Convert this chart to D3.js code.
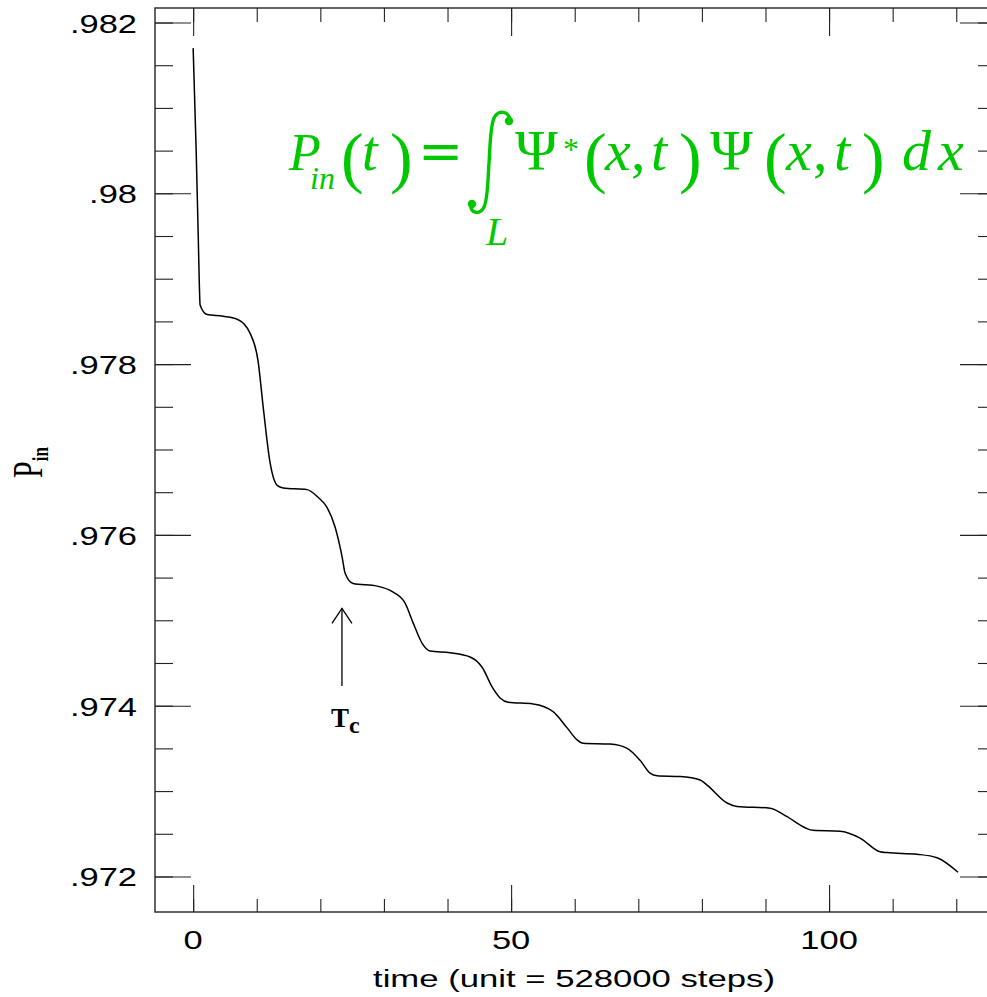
<!DOCTYPE html>
<html>
<head>
<meta charset="utf-8">
<script src="https://cdn.jsdelivr.net/npm/d3@7"></script>
<style>
  body { margin: 0; background: #fff; }
  svg { display: block; }
</style>
</head>
<body>
<svg width="987" height="997"></svg>
<script>
// time, in units of 528000 steps
var times = [0, 0.47, 0.79, 1.10, 2.20, 4.72, 7.08, 8.96, 10.22, 11.01,
    12.11, 13.21, 14.15, 17.92, 19.65, 21.07, 22.33, 23.43, 23.90, 25.16, 28.93,
    31.45, 33.33, 34.59, 36.01, 37.26, 40.41, 43.55, 45.44, 47.01, 48.27,
    49.53, 53.46, 56.60, 58.81, 60.38, 61.32, 65.57, 68.24, 70.28, 71.86,
    72.96, 76.57, 79.72, 80.82, 83.96, 85.53, 90.72, 93.40, 96.23, 97.48,
    101.73, 104.87, 108.02, 109.12, 113.84, 116.98, 120.28];
// probability inside L
var pin = [.98170, .98051, .97953, .97869, .97858, .97856, .97852, .97836, .97803, .97750,
    .97684, .97658, .97655, .97653, .97644, .97632, .97609, .97574, .97555, .97543, .97540,
    .97533, .97520, .97497, .97473, .97464, .97462, .97457, .97445, .97422, .97409,
    .97404, .97402, .97393, .97374, .97360, .97356, .97355, .97350, .97336, .97321,
    .97318, .97317, .97313, .97307, .97286, .97282, .97280, .97270, .97257, .97254,
    .97253, .97245, .97229, .97228, .97226, .97222, .97205];

var xTicks = [0, 50, 100];
var yTicks = [.972, .974, .976, .978, .98, .982];

// T_c marker
var tcTime = 23.4;
var tcTop = .97514;
var tcBottom = .97423;

var svg = d3.select("svg");
var SX = 1.38; // the original plot is stretched sideways

var x = d3.scaleLinear().domain([-6, 126.25]).range([155, 996]);
var y = d3.scaleLinear().domain([.971584, .98217]).range([912, 8]);

var fmt = function(d) { return d3.format(".3~f")(d).replace(/^0/, ""); };

// ticks on all four sides, pointing in
var drawTicks = function(axis, tr, major, minor, bigLen, smallLen) {
    var g = svg.append("g").attr("transform", tr);
    g.append("g").call(axis.tickValues(minor).tickSize(-smallLen).tickFormat(""));
    g.append("g").call(axis.tickValues(major).tickSize(-bigLen).tickFormat(""));
    g.selectAll(".domain").remove();
    g.selectAll("line").attr("stroke", "#222").attr("stroke-width", 1.1);
};

drawTicks(d3.axisBottom(x), "translate(0,912)", xTicks, x.ticks(13), 27, 13);
drawTicks(d3.axisTop(x), "translate(0,8)", xTicks, x.ticks(13), 28, 14);
drawTicks(d3.axisLeft(y), "translate(155,0)", yTicks, y.ticks(20), 36, 18);
drawTicks(d3.axisRight(y), "translate(996,0)", yTicks, y.ticks(20), 36, 18);

svg.append("rect")
    .attr("x", 155).attr("y", 8)
    .attr("width", 996 - 155).attr("height", 912 - 8)
    .attr("fill", "none")
    .attr("stroke", "#222")
    .attr("stroke-width", 1.4);

// tick labels
svg.selectAll(".ylab")
    .data(yTicks)
    .enter()
    .append("text")
    .attr("class", "ylab")
    .attr("transform", function(d) { return "translate(137," + (y(d) + 10) + ") scale(" + SX + ",1)"; })
    .attr("text-anchor", "end")
    .style("font-family", "'Liberation Sans', Arial, sans-serif")
    .style("font-size", "25px")
    .text(fmt);

svg.selectAll(".xlab")
    .data(xTicks)
    .enter()
    .append("text")
    .attr("class", "xlab")
    .attr("transform", function(d) { return "translate(" + x(d) + ",949) scale(" + SX + ",1)"; })
    .attr("text-anchor", "middle")
    .style("font-family", "'Liberation Sans', Arial, sans-serif")
    .style("font-size", "25px")
    .text(function(d) { return d; });

svg.append("text")
    .attr("x", 574).attr("y", 987)
    .attr("text-anchor", "middle")
    .attr("textLength", 402)
    .attr("lengthAdjust", "spacingAndGlyphs")
    .style("font-family", "'Liberation Sans', Arial, sans-serif")
    .style("font-size", "23px")
    .text("time (unit = 528000 steps)");

// y label P_in
var ylab = svg.append("text")
    .attr("transform", "translate(42,478) scale(" + SX + ",1) rotate(-90)")
    .style("font-family", "'Liberation Serif', 'Times New Roman', serif");
ylab.append("tspan").style("font-size", "30px").text("P");
ylab.append("tspan").attr("dy", 4).style("font-size", "17px").style("font-weight", "bold").text("in");

// data line
var line = d3.line()
    .x(function(d, i) { return x(times[i]); })
    .y(function(d) { return y(d); })
    .curve(d3.curveMonotoneX);

svg.append("path")
    .datum(pin)
    .attr("d", line)
    .attr("fill", "none")
    .attr("stroke", "#000")
    .attr("stroke-width", 1.5);

// arrow + T_c
var ax = x(tcTime);
svg.append("line")
    .attr("x1", ax).attr("x2", ax)
    .attr("y1", y(tcTop)).attr("y2", y(tcBottom))
    .attr("stroke", "#000").attr("stroke-width", 1.3);
svg.append("path")
    .attr("d", "M" + (ax - 10) + "," + (y(tcTop) + 15) + "L" + ax + "," + y(tcTop) + "L" + (ax + 10) + "," + (y(tcTop) + 15))
    .attr("fill", "none").attr("stroke", "#000").attr("stroke-width", 1.3);

var tc = svg.append("text")
    .attr("x", ax - 11).attr("y", 727)
    .style("font-family", "'Liberation Serif', 'Times New Roman', serif")
    .style("font-weight", "bold");
tc.append("tspan").style("font-size", "27px").text("T");
tc.append("tspan").attr("dy", 6).style("font-size", "24px").text("c");

// green formula, one text with placed pieces
var green = "#00c800";
var fy = 170;
var pieces = [
    ["P", 289, 52, true, 0],
    ["in", 310, 32, true, 19],
    ["(", 341, 68, false, 10],
    ["t", 362, 56, true, 0],
    [")", 390, 68, false, 10],
    ["=", 418, 54, false, 0, "'DejaVu Serif', serif"],
    ["\u03A8", 515, 58, false, 0],
    ["*", 563, 32, false, -10],
    ["(", 584, 68, false, 10],
    ["x", 605, 58, true, 0],
    [",", 631, 58, false, 0],
    ["t", 651, 58, true, 0],
    [")", 679, 68, false, 10],
    ["\u03A8", 710, 58, false, 0],
    ["(", 764, 68, false, 10],
    ["x", 786, 58, true, 0],
    [",", 813, 58, false, 0],
    ["t", 834, 58, true, 0],
    [")", 862, 68, false, 10],
    ["d", 902, 58, true, 0],
    ["x", 938, 58, true, 0]
];

var formula = svg.append("text")
    .attr("fill", green)
    .style("font-family", "'Liberation Serif', 'Times New Roman', serif");

formula.selectAll("tspan")
    .data(pieces)
    .enter()
    .append("tspan")
    .attr("x", function(d) { return d[1]; })
    .attr("y", function(d) { return fy + d[4]; })
    .style("font-size", function(d) { return d[2] + "px"; })
    .style("font-style", function(d) { return d[3] ? "italic" : "normal"; })
    .style("font-family", function(d) { return d[5] || null; })
    .text(function(d) { return d[0]; });

svg.append("text")
    .attr("x", 486).attr("y", 245)
    .attr("fill", green)
    .style("font-family", "'Liberation Serif', 'Times New Roman', serif")
    .style("font-size", "40px")
    .style("font-style", "italic")
    .text("L");

// integral sign
svg.append("path")
    .attr("d", "M510,121 C510,111 498,109 494,118 C490,127 490,150 489,163 C488,176 488,199 484,207 C480,215 470,214 471,204")
    .attr("fill", "none").attr("stroke", green).attr("stroke-width", 3.4);
svg.append("circle").attr("cx", 509).attr("cy", 121).attr("r", 4.2).attr("fill", green);
svg.append("circle").attr("cx", 472).attr("cy", 204).attr("r", 4.2).attr("fill", green);
</script>
</body>
</html>
